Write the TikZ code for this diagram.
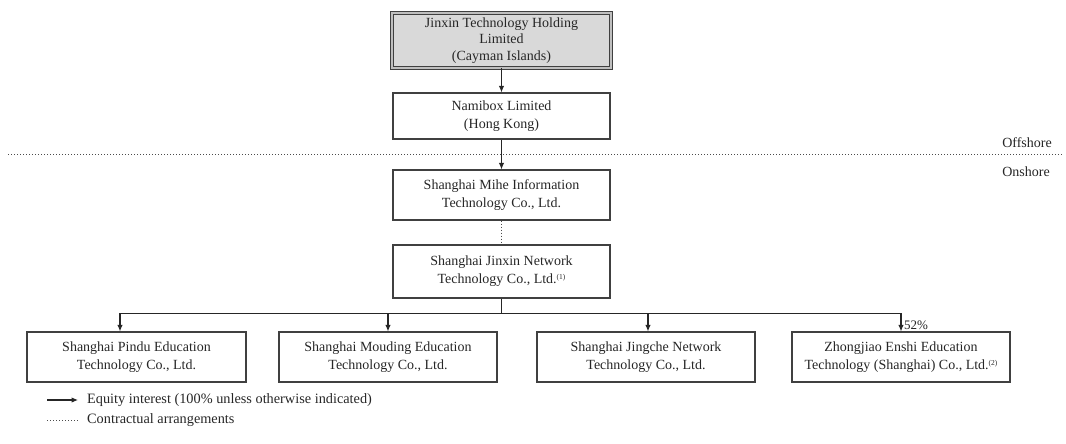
\documentclass[tikz,border=0pt]{standalone}
\usepackage{fontspec}
\setmainfont{Liberation Serif}
\usetikzlibrary{arrows.meta}

\newcommand{\fnmark}[1]{\raisebox{4pt}{\fontsize{7.5}{7.5}\selectfont(#1)}}

\begin{document}
\begin{tikzpicture}[x=1pt,y=-1pt,
		entity/.style={draw=black!75,line width=1.1pt,align=center,inner sep=0pt,
			minimum width=217pt,font=\fontsize{14}{18}\selectfont,text=black!85},
		equity/.style={draw=black!85,line width=1.1pt,-{Latex[length=6.5pt,width=5.5pt]}},
		contract/.style={draw=black!70,line width=0.9pt,dash pattern=on 1pt off 2pt},
		legend/.style={anchor=west,inner sep=0pt,font=\fontsize{14.3}{16}\selectfont,text=black!85}]
		\useasboundingbox (0,0) rectangle (1066,444);

		\node[entity,minimum width=219pt,minimum height=55pt,fill=black!15,
			double=black!25,double distance=1.6pt,line width=0.8pt,
			font=\fontsize{14}{16.5}\selectfont] (top) at (501.5,40.5)
			{Jinxin Technology Holding\\Limited\\(Cayman Islands)};
		\node[entity,minimum height=46pt] (nami) at (501.5,116) {Namibox Limited\\(Hong Kong)};
		\node[entity,minimum height=50pt] (mihe) at (501.5,195) {Shanghai Mihe Information\\Technology Co., Ltd.};
		\node[entity,minimum height=53pt] (jx) at (501.5,271.5) {Shanghai Jinxin Network\\Technology Co., Ltd.\fnmark{1}};

		\node[entity,minimum width=219pt,minimum height=50pt] (b1) at (136.5,357) {Shanghai Pindu Education\\Technology Co., Ltd.};
		\node[entity,minimum width=218pt,minimum height=50pt] (b2) at (388,357) {Shanghai Mouding Education\\Technology Co., Ltd.};
		\node[entity,minimum width=218pt,minimum height=50pt] (b3) at (646,357) {Shanghai Jingche Network\\Technology Co., Ltd.};
		\node[entity,minimum width=218pt,minimum height=50pt] (b4) at (901,357) {Zhongjiao Enshi Education\\Technology (Shanghai) Co., Ltd.\fnmark{2}};

		% offshore / onshore
		\draw[contract] (8,154.5) -- (1062,154.5);
		\node[legend,anchor=east,font=\fontsize{14}{16}\selectfont] (off) at (1052,143) {Offshore};
		\node[legend,anchor=east,font=\fontsize{14}{16}\selectfont] (on) at (1050,172) {Onshore};

		\draw[equity] (top) -- (nami);
		\draw[equity] (nami) -- (mihe);
		\draw[contract] (mihe) -- (jx);

		\draw[equity,-] (jx.south) -- ++(0,15) coordinate (bus);
		\foreach \firm/\dx in {b1/-16.5, b2/0, b3/2, b4/0}
			\draw[equity] (bus) -| ([xshift=\dx pt]\firm.north);
		\node[inner sep=1pt,anchor=south west,font=\fontsize{13}{14}\selectfont,text=black!85] (pct)
			at ([xshift=2pt,yshift=1pt]b4.north) {52\%};

		% legend
		\node[legend] (leq) at (87,400) {Equity interest (100\% unless otherwise indicated)};
		\node[legend] (lca) at (87,420) {Contractual arrangements};
		\coordinate (leqs) at (47,400);
		\coordinate (lcas) at (47,420);
		\draw[equity] (leqs) -- ([xshift=-9pt]leq.west);
		\draw[contract] (lcas) -- ([xshift=-9pt]lca.west);
	\end{tikzpicture}
\end{document}
